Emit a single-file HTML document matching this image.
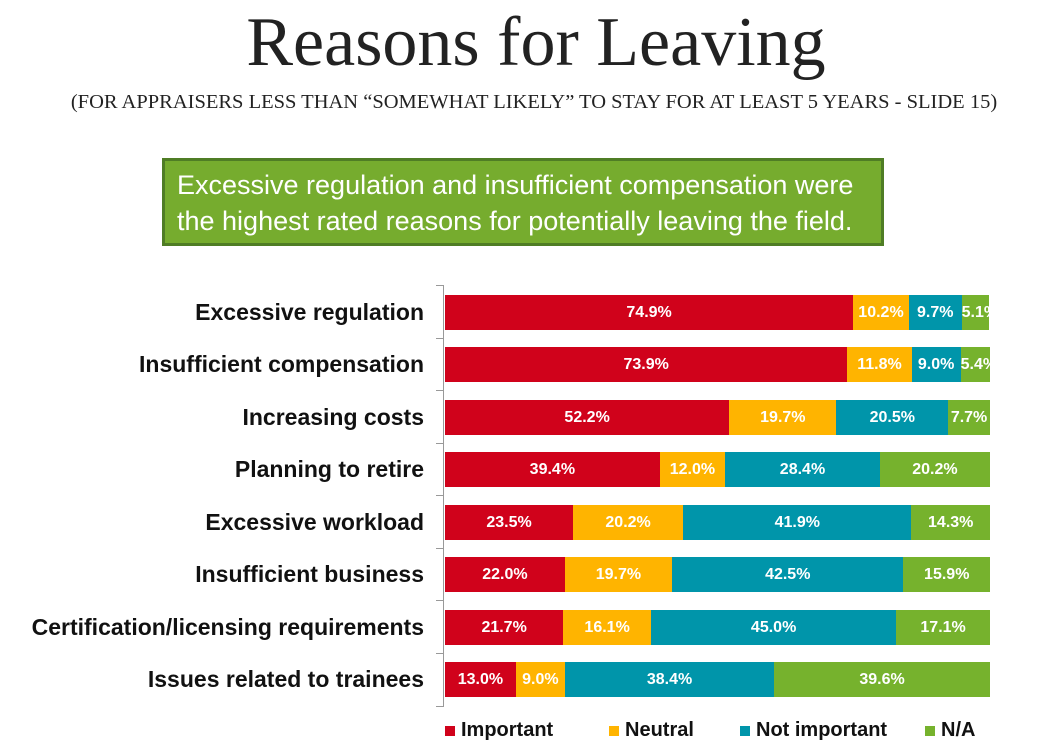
<!DOCTYPE html>
<html><head><meta charset="utf-8"><style>
body{margin:0;width:1052px;height:726px;overflow:hidden;background:#fff;position:relative;font-family:"Liberation Sans",sans-serif}
.t{position:absolute;left:0;width:1072px;text-align:center;top:3px;font-family:"Liberation Serif",serif;font-size:70px;color:#222}
.s{position:absolute;left:0;width:1068px;text-align:center;top:91px;font-family:"Liberation Serif",serif;font-size:20.5px;color:#222;white-space:nowrap}
.box{position:absolute;left:162px;top:158px;background:#76ac2e;border:3px solid #4f7d25;color:#fff;font-size:27px;line-height:36px;padding:6px 0 0 12px;box-sizing:border-box;width:722px;height:88px;white-space:nowrap}
.lab{position:absolute;right:628px;font-weight:bold;font-size:23px;color:#111;white-space:nowrap}
.bar{position:absolute;left:445px;height:35px;display:flex;width:545px;overflow:hidden}
.bar div{height:35px;color:#fff;font-weight:bold;font-size:16px;line-height:35px;text-align:center;overflow:hidden;white-space:nowrap}
.r{background:#d0021b}.y{background:#ffb400}.b{background:#0095aa}.g{background:#76b22d}
.ax{position:absolute;left:443px;top:285px;width:1px;height:422px;background:#999}
.tk{position:absolute;left:436px;width:7px;height:1px;background:#999}
.lg{position:absolute;top:719px;font-size:20px;font-weight:bold;color:#111}
.lg span{display:inline-block;width:10px;height:10px;margin-right:6px}
</style></head><body>
<div class="t">Reasons for Leaving</div>
<div class="s">(FOR APPRAISERS LESS THAN “SOMEWHAT LIKELY” TO STAY FOR AT LEAST 5 YEARS - SLIDE 15)</div>
<div class="box">Excessive regulation and insufficient compensation were<br>the highest rated reasons for potentially leaving the field.</div>
<div class="ax"></div>
<div class="tk" style="top:285px"></div><div class="tk" style="top:338px"></div><div class="tk" style="top:390px"></div><div class="tk" style="top:443px"></div><div class="tk" style="top:495px"></div><div class="tk" style="top:548px"></div><div class="tk" style="top:600px"></div><div class="tk" style="top:653px"></div><div class="tk" style="top:706px"></div>

<div class="lab" style="top:299px">Excessive regulation</div>
<div class="bar" style="top:295px"><div class="r" style="width:74.9%">74.9%</div><div class="y" style="width:10.2%">10.2%</div><div class="b" style="width:9.7%">9.7%</div><div class="g" style="width:5.1%">5.1%</div></div>

<div class="lab" style="top:351px">Insufficient compensation</div>
<div class="bar" style="top:347px"><div class="r" style="width:73.9%">73.9%</div><div class="y" style="width:11.8%">11.8%</div><div class="b" style="width:9.0%">9.0%</div><div class="g" style="width:5.4%">5.4%</div></div>

<div class="lab" style="top:404px">Increasing costs</div>
<div class="bar" style="top:400px"><div class="r" style="width:52.2%">52.2%</div><div class="y" style="width:19.7%">19.7%</div><div class="b" style="width:20.5%">20.5%</div><div class="g" style="width:7.7%">7.7%</div></div>

<div class="lab" style="top:456px">Planning to retire</div>
<div class="bar" style="top:452px"><div class="r" style="width:39.4%">39.4%</div><div class="y" style="width:12.0%">12.0%</div><div class="b" style="width:28.4%">28.4%</div><div class="g" style="width:20.2%">20.2%</div></div>

<div class="lab" style="top:509px">Excessive workload</div>
<div class="bar" style="top:505px"><div class="r" style="width:23.5%">23.5%</div><div class="y" style="width:20.2%">20.2%</div><div class="b" style="width:41.9%">41.9%</div><div class="g" style="width:14.4%">14.3%</div></div>

<div class="lab" style="top:561px">Insufficient business</div>
<div class="bar" style="top:557px"><div class="r" style="width:22.0%">22.0%</div><div class="y" style="width:19.7%">19.7%</div><div class="b" style="width:42.5%">42.5%</div><div class="g" style="width:15.9%">15.9%</div></div>

<div class="lab" style="top:614px">Certification/licensing requirements</div>
<div class="bar" style="top:610px"><div class="r" style="width:21.7%">21.7%</div><div class="y" style="width:16.1%">16.1%</div><div class="b" style="width:45.0%">45.0%</div><div class="g" style="width:17.2%">17.1%</div></div>

<div class="lab" style="top:666px">Issues related to trainees</div>
<div class="bar" style="top:662px"><div class="r" style="width:13.0%">13.0%</div><div class="y" style="width:9.0%">9.0%</div><div class="b" style="width:38.4%">38.4%</div><div class="g" style="width:39.6%">39.6%</div></div>

<div class="lg" style="left:445px"><span class="r"></span>Important</div>
<div class="lg" style="left:609px"><span class="y"></span>Neutral</div>
<div class="lg" style="left:740px"><span class="b"></span>Not important</div>
<div class="lg" style="left:925px"><span class="g"></span>N/A</div>
</body></html>
